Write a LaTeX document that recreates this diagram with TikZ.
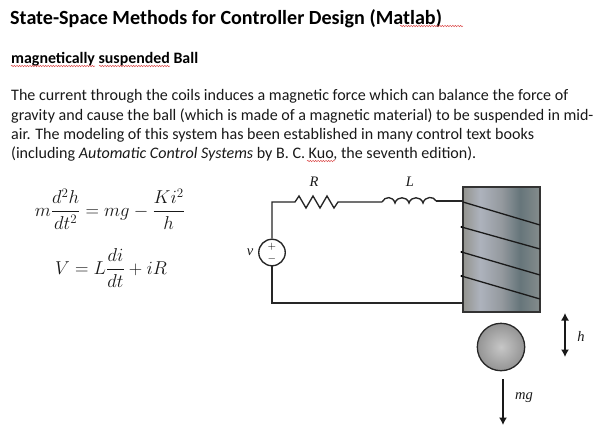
\documentclass[tikz,border=0pt]{standalone}
\usepackage{amsmath}
\usepackage{graphicx}
\usepackage{fontspec}
\setmainfont{Carlito}
\newfontfamily\labelfont{Liberation Serif}
\usetikzlibrary{arrows.meta,decorations.pathmorphing}
\definecolor{wavy}{RGB}{220,70,70}
\definecolor{cA}{rgb}{0.58,0.58,0.56}
\definecolor{cB}{rgb}{0.68,0.70,0.74}
\definecolor{cC}{rgb}{0.58,0.60,0.62}
\definecolor{cD}{rgb}{0.40,0.46,0.48}
\definecolor{cE}{rgb}{0.52,0.55,0.55}
\pgfdeclarehorizontalshading{coreshade}{100bp}{
 color(0bp)=(cA);
 color(25bp)=(cA);
 color(36bp)=(cB);
 color(50bp)=(cC);
 color(62bp)=(cD);
 color(75bp)=(cE);
 color(100bp)=(cE)}
\tikzset{
 x=1pt,y=-1pt,
 para/.style={anchor=base west,inner sep=0pt,font=\fontsize{16.05}{18}\selectfont,text=black!90},
 mathlab/.style={inner sep=0pt,font=\labelfont\itshape\fontsize{14.5}{16}\selectfont,text=black!90},
 eq/.style={inner sep=0pt,text=black!90,font=\fontsize{17.28}{21}\selectfont},
 wire/.style={line width=1.35pt,black!85},
 squig/.style={wavy,line width=.45pt,decorate,decoration={snake,amplitude=.7pt,segment length=2.6pt}},
 arr/.style={line width=1.3pt,black!90,{Latex[length=7.5pt,width=8pt]}-{Latex[length=7.5pt,width=8pt]}},
 arrd/.style={line width=1.3pt,black!90,-{Latex[length=7.5pt,width=8pt]}},
 turn/.style={line width=1.3pt,black!90},
}
\begin{document}
\begin{tikzpicture}
\useasboundingbox (0,0) rectangle (610,440);
\fill[white] (0,0) rectangle (610,440);
% text
\node[anchor=base west,inner sep=0pt,font=\fontsize{20.1}{22}\selectfont\bfseries] (title) at (10,24) {State-Space Methods for Controller Design (Matlab)};
\node[anchor=base west,inner sep=0pt,font=\fontsize{15.9}{18}\selectfont\bfseries] (sub) at (11,63) {magnetically suspended Ball};
\node[para] (l1) at (11,100) {The current through the coils induces a magnetic force which can balance the force of};
\node[para] (l2) at (11,120) {gravity and cause the ball (which is made of a magnetic material) to be suspended in mid-};
\node[para] (l3) at (11,139) {air. The modeling of this system has been established in many control text books};
\node[para] (l4) at (11,158) {(including \textit{Automatic Control Systems} by B. C. Kuo, the seventh edition).};
% spell-check squiggles
\draw[squig] (11,66) -- (95,66);
\draw[squig] (99,66) -- (170,66);
\draw[squig] (400,26) -- (463,26);
\draw[squig] (307,161) -- (335,161);
% equations
\node[eq] (e1) at (110,209) {\scalebox{1.08}{$\displaystyle m\frac{d^2h}{dt^2}=mg-\frac{Ki^2}{h}$}};
\node[eq] (e2) at (111,268) {\scalebox{1.08}{$\displaystyle V=L\frac{di}{dt}+iR$}};
% core
\shade[shading=coreshade] (463,187) rectangle (540,312);
\draw[line width=1.3pt,black!80] (463,187) rectangle (540,312);
% coil turns
\draw[turn] (463,202) -- (540,225);
\draw[turn] (461.5,227) -- (540,249);
\draw[turn] (461.5,252) -- (540,275);
\draw[turn] (461.5,276) -- (540,299);
\foreach \y in {227,252,276} \fill[black] (461.5,\y) circle (1.2pt);
% circuit
\coordinate (tl) at (272,202);
\coordinate (bl) at (272,303);
\coordinate (rs) at (295,202);
\coordinate (ls) at (382,202);
\coordinate (ct) at (463,201);
\coordinate (cb) at (463,303);
\node[circle,draw=black!85,line width=1.35pt,minimum size=26.5pt,inner sep=0pt,align=center,font=\fontsize{11}{12}\selectfont] (src) at (272,252.5) {$+$\\$-$};
\draw[wire] (src.north) -- (tl) -- (rs)
  -- (299,196) -- (306,208) -- (313,196) -- (320,208) -- (327,196) -- (334,208) -- (338,202)
  -- (ls);
\draw[wire] (ls) .. controls (385,196) and (393,196) .. (395,203)
  .. controls (397,196) and (407,196) .. (409,203)
  .. controls (411,196) and (421,196) .. (423,203)
  .. controls (425,196) and (434,196) .. (436,201) coordinate (le);
\draw[wire] (le) -- (ct);
\draw[wire] (src.south) -- (bl) -- (cb);
% labels
\node[mathlab] (R) at (314,182) {R};
\node[mathlab] (L) at (410,182) {L};
\node[mathlab] (v) at (250,252) {v};
% ball
\shade[inner color=black!22,outer color=black!42] (501,347) circle (23.7pt);
\draw[line width=1.3pt,black!85] (501,347) circle (23.7pt);
% arrows
\coordinate (ht) at (565,313);
\coordinate (hb) at (565,357);
\draw[arr] (ht) -- (hb);
\node[mathlab] (h) at (581,336) {h};
\coordinate (mt) at (503,379);
\coordinate (mb) at (503,425);
\draw[arrd] (mt) -- (mb);
\node[mathlab] (mg) at (524,398) {mg};
\end{tikzpicture}
\end{document}
